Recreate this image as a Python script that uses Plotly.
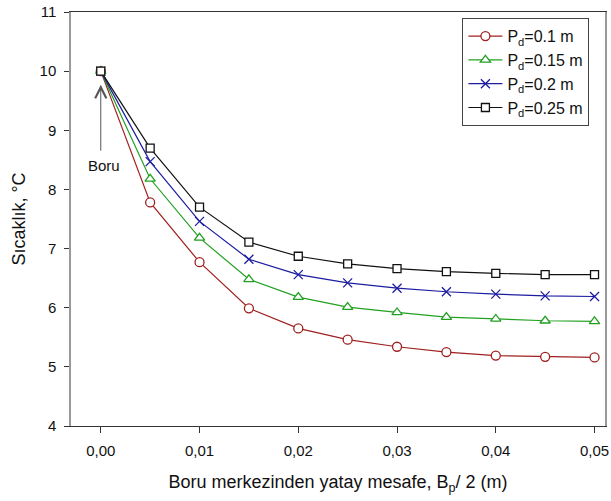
import plotly.graph_objects as go

x_vals = [0.0, 0.005, 0.01, 0.015, 0.02, 0.025, 0.03, 0.035, 0.04, 0.045, 0.05]
pd_01 = [10.0, 7.78, 6.77, 5.99, 5.65, 5.46, 5.34, 5.25, 5.19, 5.17, 5.16]
pd_015 = [10.0, 8.18, 7.18, 6.48, 6.18, 6.01, 5.92, 5.84, 5.81, 5.78, 5.77]
pd_02 = [10.0, 8.47, 7.46, 6.82, 6.56, 6.42, 6.33, 6.27, 6.23, 6.20, 6.19]
pd_025 = [10.0, 8.70, 7.70, 7.11, 6.87, 6.74, 6.66, 6.61, 6.58, 6.56, 6.56]
series_names = ["P<sub>d</sub>=0.1 m", "P<sub>d</sub>=0.15 m", "P<sub>d</sub>=0.2 m", "P<sub>d</sub>=0.25 m"]
x_ticks = [0.0, 0.01, 0.02, 0.03, 0.04, 0.05]
y_ticks = [4, 5, 6, 7, 8, 9, 10, 11]

colors = ["#a02020", "#22a022", "#1c1ca0", "#111111"]
symbols = ["circle", "triangle-up", "x-thin", "square"]
fills = ["white", "white", "#1c1ca0", "white"]
sizes = [9, 9, 9, 8]

fig = go.Figure()
for name, ys, c, s, f, sz in zip(series_names, [pd_01, pd_015, pd_02, pd_025], colors, symbols, fills, sizes):
    fig.add_trace(go.Scatter(
        x=x_vals, y=ys, name=name, mode="lines+markers",
        line=dict(color=c, width=1.2),
        marker=dict(symbol=s, size=sz, color=f, line=dict(color=c, width=1.3)),
    ))

# arrow "Boru"
fig.add_annotation(x=0.0, y=9.77, ax=0.0, ay=8.63, xref="x", yref="y", axref="x", ayref="y",
                   text="", showarrow=True, arrowhead=5, arrowsize=2.2, arrowwidth=1,
                   arrowcolor="#555555")
fig.add_annotation(x=0.0003, y=8.41, xref="x", yref="y", text="Boru", showarrow=False,
                   font=dict(size=15, color="#111111"))

fig.update_layout(
    width=611, height=501,
    margin=dict(l=71, r=2, t=12, b=75),
    paper_bgcolor="white", plot_bgcolor="white",
    separators=",.",
    font=dict(family="Liberation Sans, Arial, sans-serif", size=15, color="#111111"),
    showlegend=True,
    legend=dict(x=0.733, y=0.985, xanchor="left", yanchor="top",
                bordercolor="#444444", borderwidth=1, bgcolor="white",
                font=dict(size=16), tracegroupgap=0, itemwidth=34),
    xaxis=dict(range=[-0.003015, 0.05106], tickvals=x_ticks, tickformat=".2f",
               showgrid=False, zeroline=False, showline=True, linecolor="#333333",
               linewidth=1, mirror=True, ticks="outside", ticklen=6, tickcolor="#333333",
               tickfont=dict(size=15), ticklabelstandoff=5, ticklabeloverflow="allow",
               title=dict(text="Boru merkezinden yatay mesafe, B<sub>p</sub>/ 2 (m)",
                          font=dict(size=18), standoff=17)),
    yaxis=dict(range=[4, 11], tickvals=y_ticks,
               showgrid=False, zeroline=False, showline=True, linecolor="#999999",
               linewidth=1.5, mirror=True, ticks="outside", ticklen=5, tickcolor="#333333",
               tickfont=dict(size=15), ticklabelstandoff=5,
               title=dict(text="Sıcaklık, °C", font=dict(size=18), standoff=9)),
)

html = fig.to_html(full_html=True, include_plotlyjs=True,
                   config={"displayModeBar": False, "responsive": False})
html = html.replace("<body>", '<body style="margin:0;padding:0;overflow:hidden">', 1)
with open("out.html", "w", encoding="utf-8") as fh:
    fh.write(html)
